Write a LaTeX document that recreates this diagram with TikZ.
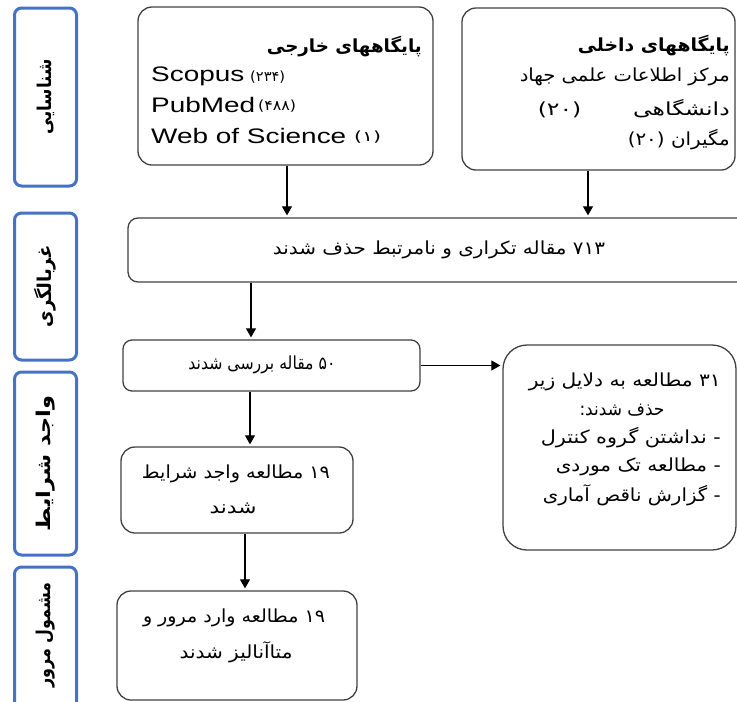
\documentclass[tikz,border=0pt]{standalone}
\usepackage{fontspec}
\usepackage{graphicx}
\setmainfont{Liberation Sans}
\newfontfamily\latf[FakeStretch=1.33]{Liberation Sans}
\newfontfamily\fa[Script=Arabic]{DejaVu Sans}
\TeXXeTstate=1
\usetikzlibrary{arrows.meta}
\definecolor{lblue}{HTML}{4472C4}
\definecolor{bgray}{HTML}{404040}
\newcommand\fw[2]{\resizebox{#1pt}{\height}{#2}}
\newcommand\rtl[1]{\beginR #1\endR}
\newcommand\ltr[1]{\beginL #1\endL{}}
\begin{document}
\begin{tikzpicture}[x=1pt,y=-1pt,
  lbl/.style={draw=lblue,line width=3pt,rounded corners=7pt,minimum width=62pt,inner sep=0pt},
  bx/.style={draw=bgray,line width=1.3pt,rounded corners=14pt,inner sep=0pt},
  arr/.style={line width=1.1pt,-{Triangle[length=9pt,width=10pt]},shorten >=2pt},
  ptxt/.style={inner sep=0pt,font=\fontsize{18}{21}\fa},
  ttl/.style={inner sep=0pt,font=\fontsize{18}{21}\fa\bfseries},
  lat/.style={inner sep=0pt,font=\fontsize{21}{24}\latf,anchor=west},
  num/.style={inner sep=0pt,font=\fontsize{14}{16}\fa,anchor=west},
  vl/.style={inner sep=0pt,rotate=90,font=\fontsize{19}{22}\fa\bfseries}]
\useasboundingbox (0,0) rectangle (737,702);

% stage labels
\node[lbl,minimum height=178pt] (L1) at (45.5,97) {};
\node[lbl,minimum height=147pt] (L2) at (45.5,286.5) {};
\node[lbl,minimum height=183pt] (L3) at (45.5,463.5) {};
\node[lbl,minimum height=145pt] (L4) at (45.5,639.5) {};
\node[vl] (t1) at (L1.center) {\fw{75}{\rtl{شناسایی}}};
\node[vl] (t2) at (L2.center) {\fw{82}{\rtl{غربالگری}}};
\node[vl] (t3) at (L3.center) {\fw{135}{\rtl{واجد شرایط}}};
\node[vl] (t4) at (45.5,635) {\fw{105}{\rtl{مشمول مرور}}};

% boxes
\node[bx,minimum width=295pt,minimum height=158pt] (ext) at (285.5,86) {};
\node[bx,minimum width=273pt,minimum height=162pt] (int) at (598.5,89) {};
\node[bx,rounded corners=10pt,minimum width=620pt,minimum height=64pt] (b713) at (438,250) {};
\node[bx,rounded corners=9pt,minimum width=297pt,minimum height=51pt] (b50) at (271.5,365.5) {};
\node[bx,rounded corners=24pt,minimum width=233pt,minimum height=205pt] (b31) at (619.5,447.5) {};
\node[bx,minimum width=232pt,minimum height=86pt] (b19) at (237,490) {};
\node[bx,minimum width=240pt,minimum height=109pt] (bfin) at (237,645.5) {};

% external databases
\node[ttl,anchor=east] (et) at (422,47) {\fw{155}{\rtl{پایگاههای خارجی}}};
\node[lat] (s1) at (151,76) {Scopus};
\node[num] (n1) at (250,77) {\fw{35}{(۲۳۴)}};
\node[lat] (s2) at (151,105) {PubMed};
\node[num] (n2) at (258,106) {\fw{38}{(۴۸۸)}};
\node[lat] (s3) at (151,136) {Web of Science};
\node[num] (n3) at (354,137) {\fw{27}{(۱)}};

% internal databases
\node[ttl,anchor=east] (it) at (730,46) {\fw{152}{\rtl{پایگاههای داخلی}}};
\node[ptxt,anchor=east] (i1) at (730,77) {\fw{210}{\rtl{مرکز اطلاعات علمی جهاد}}};
\node[ptxt,anchor=east] (i2) at (730,109) {\fw{192}{\rtl{دانشگاهی\hspace{2.2em}\ltr{(۲۰)}}}};
\node[ptxt,anchor=east] (i3) at (730,140) {\fw{102}{\rtl{مگیران \ltr{(۲۰)}}}};

% flow texts
\node[ptxt] (x713) at (439,250) {\fw{332}{\rtl{\ltr{۷۱۳} مقاله تکراری و نامرتبط حذف شدند}}};
\node[ptxt] (x50) at (262,365) {\fw{147}{\rtl{\ltr{۵۰} مقاله بررسی شدند}}};
\node[ptxt,anchor=east] (x31a) at (721,382) {\fw{192}{\rtl{\ltr{۳۱} مطالعه به دلایل زیر}}};
\node[ptxt] (x31b) at (622,410) {\fw{85}{\rtl{حذف شدند:}}};
\node[ptxt,anchor=east] (x31c) at (721,438) {\fw{180}{\rtl{- نداشتن گروه کنترل}}};
\node[ptxt,anchor=east] (x31d) at (721,467) {\fw{165}{\rtl{- مطالعه تک موردی}}};
\node[ptxt,anchor=east] (x31e) at (721,495) {\fw{178}{\rtl{- گزارش ناقص آماری}}};
\node[ptxt] (x19a) at (236,474) {\fw{188}{\rtl{\ltr{۱۹} مطالعه واجد شرایط}}};
\node[ptxt] (x19b) at (233,508) {\fw{47}{\rtl{شدند}}};
\node[ptxt] (xfa) at (234,618) {\fw{182}{\rtl{\ltr{۱۹} مطالعه وارد مرور و}}};
\node[ptxt] (xfb) at (236,652) {\fw{113}{\rtl{متاآنالیز شدند}}};

% connectors
\coordinate (e1) at ([xshift=1.5pt]ext.south);
\coordinate (e2) at ([xshift=-10.5pt]int.south);
\coordinate (e3) at ([xshift=-20.5pt]b50.north);
\coordinate (e5) at ([xshift=13pt]b19.north);
\coordinate (e6) at ([xshift=8pt]bfin.north);
\draw[arr] (e1) -- (e1 |- b713.north);
\draw[arr] (e2) -- (e2 |- b713.north);
\draw[arr] (e3 |- b713.south) -- (e3);
\draw[arr] (b50.east) -- (b50.east -| b31.west);
\draw[arr] (e5 |- b50.south) -- (e5);
\draw[arr] (e6 |- b19.south) -- (e6);
\end{tikzpicture}
\end{document}
